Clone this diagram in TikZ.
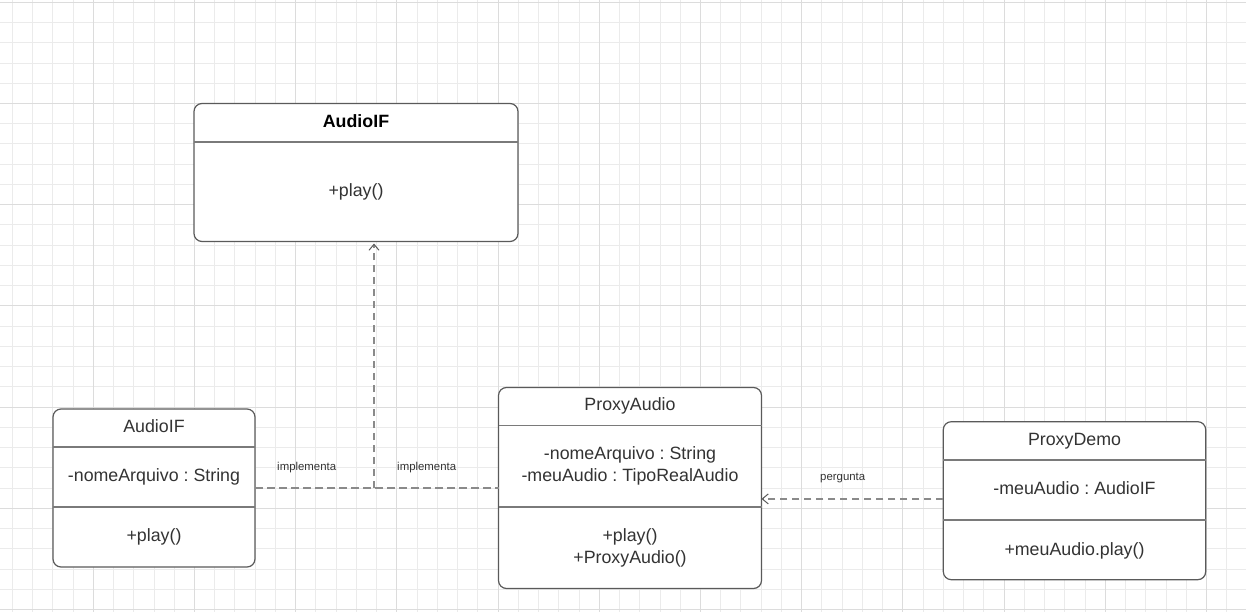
\documentclass[tikz,border=0pt]{standalone}
\usepackage{fontspec}
\setmainfont{Liberation Sans}
\usepackage{tikz}
\usetikzlibrary{
  calc,
  positioning,
  arrows.meta
}
\frenchspacing
\definecolor{gridminor}{HTML}{EBEBEB}
\definecolor{gridmajor}{HTML}{DCDCDC}
\definecolor{boxline}{HTML}{5A5A5A}
\definecolor{sepgray}{HTML}{7A7A7A}
\definecolor{conngray}{HTML}{8A8A8A}
\definecolor{textgray}{HTML}{333333}
\tikzset{>={Straight Barb[length=6pt,width=10pt,line width=1pt,color=boxline]}}
\newcommand{\umlfont}{\fontsize{17.8}{22}\selectfont}

\begin{document}
\begin{tikzpicture}[x=1pt,y=-1pt,
    umlbox/.style={draw=boxline, line width=1.2pt, rounded corners=8pt, fill=white, inner sep=0pt, outer sep=0pt},
    sepline/.style={draw=sepgray, line width=1.6pt},
    member/.style={anchor=base, inner sep=0pt, text=textgray, font=\umlfont},
    classname/.style={member},
    boldname/.style={member, text=black, font=\umlfont\bfseries},
    lbl/.style={anchor=base, inner sep=0pt, text=textgray, font=\fontsize{11.4}{13}\selectfont},
    conn/.style={draw=conngray, line width=1.8pt, dash pattern=on 7.5pt off 4.5pt}]
      \useasboundingbox (0,0) rectangle (1246,612);

      % grid
      \foreach \i in {0,...,61} \draw[gridminor, line width=1pt] ({12.34+20.24*\i},0) -- ++(0,612);
      \foreach \j in {0,...,30} \draw[gridminor, line width=1pt] (0,{2.3+20.24*\j}) -- ++(1246,0);
      \foreach \i in {0,...,12} \draw[gridmajor, line width=1pt] ({-7.9+101.2*\i},0) -- ++(0,612);
      \foreach \j in {0,...,6} \draw[gridmajor, line width=1pt] (0,{2.3+101.2*\j}) -- ++(1246,0);

      % classes
      \node[umlbox, minimum width=324pt, minimum height=138pt] (audioif) at (356,172.5) {};
      \node[umlbox, minimum width=202pt, minimum height=158pt] (leftif) at (154,488) {};
      \node[umlbox, minimum width=263pt, minimum height=201pt] (proxy) at (630,488) {};
      \node[umlbox, minimum width=262.4pt, minimum height=158pt] (demo) at (1074.5,500.7) {};

      % compartments
      \draw[sepline] (audioif.west |- 0,142) -- (audioif.east |- 0,142);
      \draw[sepline] (leftif.west |- 0,447) -- (leftif.east |- 0,447);
      \draw[sepline] (leftif.west |- 0,507) -- (leftif.east |- 0,507);
      \draw[sepline] (proxy.west |- 0,425.5) -- (proxy.east |- 0,425.5);
      \draw[sepline] (proxy.west |- 0,507) -- (proxy.east |- 0,507);
      \draw[sepline] (demo.west |- 0,460) -- (demo.east |- 0,460);
      \draw[sepline] (demo.west |- 0,520) -- (demo.east |- 0,520);

      % AudioIF (top)
      \node[boldname] (audioifname) at (356,127.3) {AudioIF};
      \node[member] (audioifplay) at (356,196.5) {+play()};

      % AudioIF (left)
      \node[classname] (leftifname) at (154,432.3) {AudioIF};
      \node[member] (leftifattr) at (154,481.3) {-nomeArquivo : String};
      \node[member] (leftifplay) at (154,541) {+play()};

      % ProxyAudio
      \node[classname] (proxyname) at (630,410.3) {ProxyAudio};
      \node[member] (proxyattra) at (630,459) {-nomeArquivo : String};
      \node[member] (proxyattrb) at (630,481.3) {-meuAudio : TipoRealAudio};
      \node[member] (proxyplay) at (630,541.3) {+play()};
      \node[member] (proxyctor) at (630,563.6) {+ProxyAudio()};

      % ProxyDemo
      \node[classname] (demoname) at (1074.5,445.3) {ProxyDemo};
      \node[member] (demoattr) at (1074.5,494.6) {-meuAudio : AudioIF};
      \node[member] (demoplay) at (1074.5,555.3) {+meuAudio.play()};

      % implementa
      \coordinate (jn) at (374,488);
      \draw[conn] (leftif.east) -- (proxy.west);
      \draw[conn, ->, shorten >=2pt] (jn) -- (jn |- audioif.south);
      \node[lbl] (impla) at (306.7,470) {implementa};
      \node[lbl] (implb) at (426.7,470) {implementa};

      % pergunta
      \coordinate (dl) at ([yshift=1.8pt]demo.west);
      \draw[conn, ->] (dl) -- (dl -| proxy.east);
      \node[lbl] (perg) at (842.7,480) {pergunta};
\end{tikzpicture}
\end{document}
